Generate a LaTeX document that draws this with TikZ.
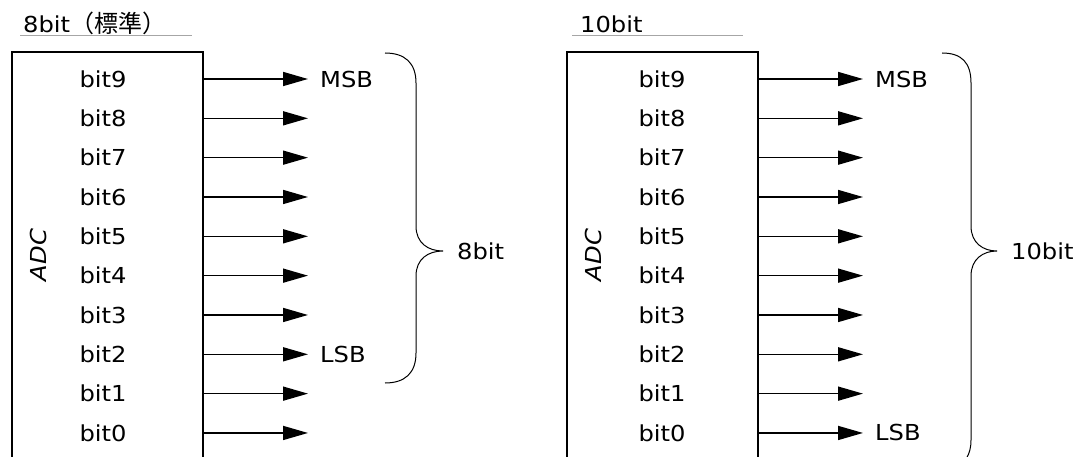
\documentclass[tikz,border=0pt]{standalone}
\usepackage{fontspec}
\setmainfont[FakeStretch=1.1]{DejaVu Sans}
\newfontfamily\jp{Noto Sans CJK JP}
\usetikzlibrary{arrows.meta,positioning}
\tikzset{
  boxline/.style={line width=1.8pt},
  bitarrow/.style={line width=1.6pt,-{Triangle[length=25pt,width=14pt]}},
  bitlabel/.style={inner sep=0pt},
  sidelabel/.style={inner sep=0pt,anchor=west},
  bracket/.style={line width=1pt},
  titleline/.style={draw=gray!70,line width=1pt}
}
\begin{document}
\begin{tikzpicture}[x=1pt,y=-1pt,font=\fontsize{22}{26}\selectfont]
\useasboundingbox (0,0) rectangle (1075,457);
\clip (0,0) rectangle (1075,457);
\pgfmathsetmacro\rowstep{39.33};
% 8bit
\node[bitlabel,anchor=base west] (ltitle) at (23,33) {8bit{\jp\fontsize{24}{28}\selectfont （標準）}};
\draw[titleline] (20,36) -- (192,36);
\draw[boxline] (12,460) -- (12,52) -- (203,52) -- (203,460);
\node[bitlabel,rotate=90,font=\fontsize{22}{26}\selectfont\itshape] (ladc) at (38,255) {ADC};
\foreach \i in {0,...,9} {
  \pgfmathsetmacro\yy{79+(9-\i)*\rowstep}
  \node[bitlabel] (l\i) at (103,\yy) {bit\i};
  \coordinate (la\i) at (203,\yy);
  \coordinate (lt\i) at (308,\yy);
  \draw[bitarrow] (la\i) -- (lt\i);
}
\node[sidelabel,right=12pt of lt9] (lmsb) {MSB};
\node[sidelabel,right=12pt of lt2] (llsb) {LSB};
\draw[bracket] (385,53) .. controls (405,53) and (416,63) .. (416,83) -- (416,226)
  .. controls (416,243) and (428,251) .. (443,251)
  .. controls (428,251) and (416,259) .. (416,276) -- (416,353)
  .. controls (416,373) and (405,383) .. (385,383);
\coordinate (lbr) at (443,251);
\node[sidelabel,right=14pt of lbr] (lwidth) {8bit};
% 10bit
\node[bitlabel,anchor=base west] (rtitle) at (580,33) {10bit};
\draw[titleline] (572,36) -- (743,36);
\draw[boxline] (567,460) -- (567,52) -- (758,52) -- (758,460);
\node[bitlabel,rotate=90,font=\fontsize{22}{26}\selectfont\itshape] (radc) at (593,255) {ADC};
\foreach \i in {0,...,9} {
  \pgfmathsetmacro\yy{79+(9-\i)*\rowstep}
  \node[bitlabel] (r\i) at (662,\yy) {bit\i};
  \coordinate (ra\i) at (758,\yy);
  \coordinate (rt\i) at (863,\yy);
  \draw[bitarrow] (ra\i) -- (rt\i);
}
\node[sidelabel,right=12pt of rt9] (rmsb) {MSB};
\node[sidelabel,right=12pt of rt0] (rlsb) {LSB};
\draw[bracket] (942,53) .. controls (962,53) and (971,63) .. (971,83) -- (971,226)
  .. controls (971,243) and (983,251) .. (997,251)
  .. controls (983,251) and (971,259) .. (971,276) -- (971,440)
  .. controls (971,455) and (965,462) .. (955,470);
\coordinate (rbr) at (997,251);
\node[sidelabel,right=14pt of rbr] (rwidth) {10bit};
\end{tikzpicture}
\end{document}
